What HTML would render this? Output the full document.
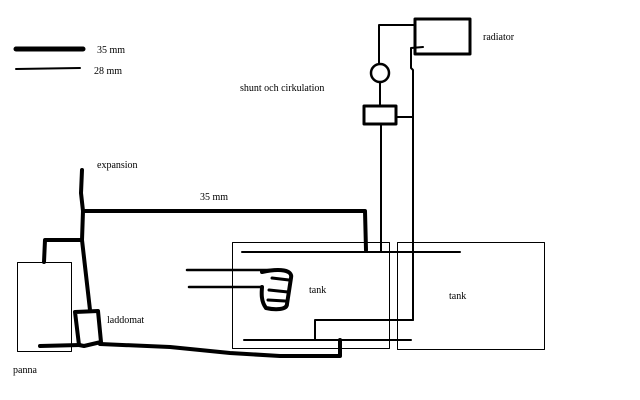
<!DOCTYPE html>
<html><head><meta charset="utf-8"><style>
html,body{margin:0;padding:0;background:#fff;width:640px;height:400px;overflow:hidden}
text{font-family:"Liberation Serif",serif;font-size:10px;fill:#000}
</style></head><body>
<svg width="640" height="400" viewBox="0 0 640 400" xmlns="http://www.w3.org/2000/svg">
<g fill="none" stroke="#000" stroke-linecap="round" stroke-linejoin="round">
<line x1="16" y1="49" x2="83" y2="49" stroke-width="5"/>
<line x1="16" y1="69" x2="80" y2="68" stroke-width="2"/>
<rect x="415" y="19" width="55" height="35" stroke-width="3"/>
<polyline points="379,64 379,25 414,25" stroke-width="2"/>
<circle cx="380" cy="73" r="9" stroke-width="2.5"/>
<line x1="380" y1="82" x2="380" y2="106" stroke-width="2"/>
<rect x="364" y="106" width="32" height="18" stroke-width="3"/>
<line x1="381" y1="124" x2="381" y2="252" stroke-width="2"/>
<line x1="396" y1="117" x2="413" y2="117" stroke-width="2"/>
<polyline points="423,47 411,48 411,68 413,70 413,320" stroke-width="2"/>
<rect x="232.5" y="242.5" width="157" height="106" stroke-width="1"/>
<rect x="397.5" y="242.5" width="147" height="107" stroke-width="1"/>
<line x1="242" y1="252" x2="460" y2="252" stroke-width="2"/>
<polyline points="315,340 315,320 413,320" stroke-width="2"/>
<line x1="244" y1="340" x2="411" y2="340" stroke-width="2"/>
<line x1="187" y1="270" x2="270" y2="270" stroke-width="2.5"/>
<line x1="189" y1="287" x2="262" y2="287" stroke-width="2.5"/>
<path d="M262,272 C280,268 293,270 291,278 L287,304 C287,310 275,310 266,308 C260,300 262,290 262,287" stroke-width="4"/>
<path d="M272,278 L289,280 M269,290 L288,292 M268,300 L285,301" stroke-width="3"/>
<polyline points="82,170 81,193 83,211 365,211 366,250" stroke-width="4"/>
<polyline points="83,211 82,240 45,240 44,262" stroke-width="4"/>
<polyline points="82,240 90,310" stroke-width="4"/>
<path d="M75,312 L98,311 L101,342 L84,346 L79,345 Z" stroke-width="4"/>
<polyline points="40,346 80,345" stroke-width="4"/>
<polyline points="100,344 170,347 230,353 280,356 340,356 340,340" stroke-width="4"/>
<rect x="17.5" y="262.5" width="54" height="89" stroke-width="1"/>
</g>
<text x="97" y="53">35 mm</text>
<text x="94" y="74">28 mm</text>
<text x="240" y="91">shunt och cirkulation</text>
<text x="483" y="40">radiator</text>
<text x="97" y="168">expansion</text>
<text x="200" y="200">35 mm</text>
<text x="309" y="293">tank</text>
<text x="449" y="299">tank</text>
<text x="107" y="323">laddomat</text>
<text x="13" y="373">panna</text>
</svg>
</body></html>
